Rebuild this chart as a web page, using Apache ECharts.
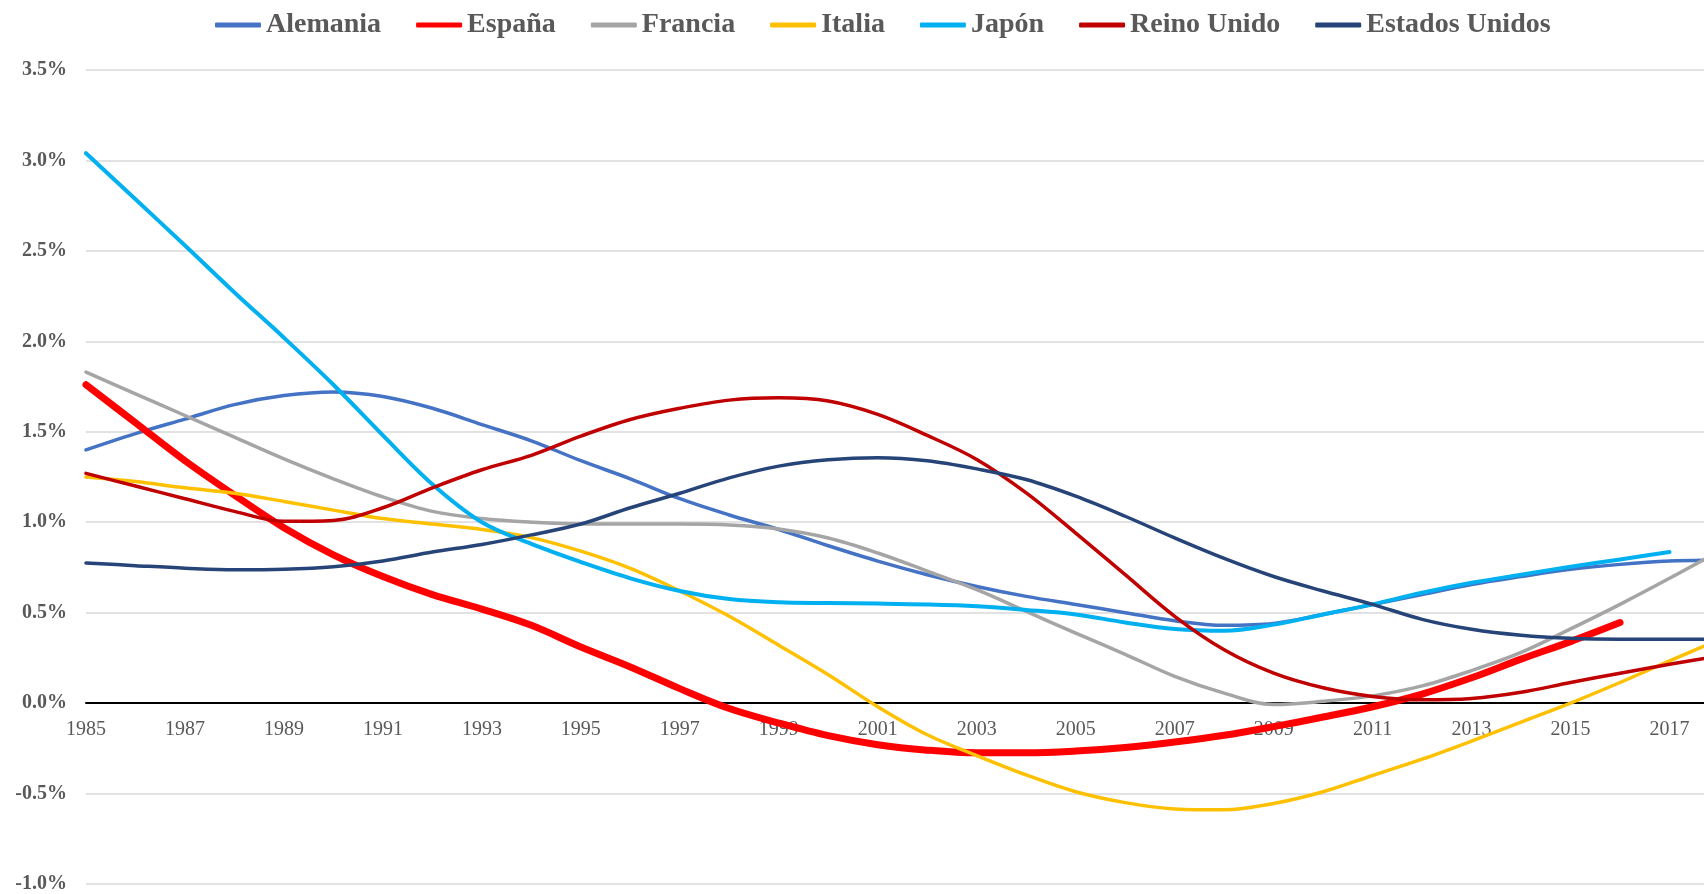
<!DOCTYPE html>
<html>
<head>
<meta charset="utf-8">
<title>Evolución por país 1985-2018</title>
<script src="https://cdn.jsdelivr.net/npm/echarts@6/dist/echarts.min.js"></script>
<style>
  html, body { margin: 0; padding: 0; background: #ffffff; }
  #chart { width: 1704px; height: 894px; }
</style>
</head>
<body>
<div id="chart"></div>
<script>
// Years on the horizontal axis
const years = [];
for (let y = 1985; y <= 2018; y++) years.push(String(y));

// Annual values, in percent (1985 .. 2018)
const alemania = [1.40, 1.49, 1.57, 1.65, 1.70, 1.72, 1.695, 1.63, 1.54, 1.45, 1.34, 1.24, 1.13, 1.04, 0.96, 0.87, 0.785, 0.71, 0.645, 0.59, 0.545, 0.50, 0.455, 0.43, 0.44, 0.49, 0.545, 0.60, 0.656, 0.70, 0.74, 0.767, 0.785, 0.79];
const espana = [1.76, 1.55, 1.34, 1.15, 0.97, 0.82, 0.70, 0.60, 0.52, 0.43, 0.31, 0.20, 0.08, -0.03, -0.11, -0.18, -0.23, -0.26, -0.275, -0.275, -0.265, -0.245, -0.215, -0.178, -0.13, -0.077, -0.02, 0.05, 0.14, 0.243, 0.34, 0.445, null, null];
const francia = [1.83, 1.71, 1.59, 1.47, 1.35, 1.24, 1.14, 1.06, 1.02, 1.0, 0.99, 0.99, 0.99, 0.985, 0.963, 0.913, 0.83, 0.73, 0.627, 0.507, 0.387, 0.27, 0.148, 0.055, -0.008, 0.01, 0.04, 0.095, 0.18, 0.28, 0.41, 0.546, 0.69, 0.84];
const italia = [1.25, 1.225, 1.19, 1.16, 1.115, 1.067, 1.02, 0.99, 0.96, 0.915, 0.84, 0.745, 0.62, 0.48, 0.32, 0.157, -0.02, -0.175, -0.29, -0.397, -0.49, -0.55, -0.585, -0.59, -0.555, -0.49, -0.40, -0.31, -0.21, -0.105, 0.0, 0.114, 0.233, 0.35];
const japon = [3.04, 2.785, 2.53, 2.27, 2.02, 1.76, 1.48, 1.21, 1.0, 0.88, 0.78, 0.69, 0.62, 0.575, 0.557, 0.553, 0.55, 0.545, 0.535, 0.515, 0.49, 0.446, 0.41, 0.40, 0.434, 0.49, 0.546, 0.61, 0.665, 0.71, 0.754, 0.794, 0.835, null];
const reinoUnido = [1.27, 1.20, 1.13, 1.06, 1.005, 1.01, 1.08, 1.19, 1.29, 1.37, 1.476, 1.568, 1.63, 1.675, 1.688, 1.67, 1.596, 1.48, 1.347, 1.162, 0.94, 0.71, 0.48, 0.295, 0.166, 0.085, 0.037, 0.018, 0.026, 0.06, 0.114, 0.165, 0.215, 0.26];
const estadosUnidos = [0.775, 0.76, 0.746, 0.737, 0.74, 0.754, 0.786, 0.835, 0.877, 0.93, 0.99, 1.08, 1.16, 1.245, 1.31, 1.345, 1.357, 1.34, 1.295, 1.236, 1.144, 1.033, 0.913, 0.80, 0.70, 0.62, 0.546, 0.463, 0.408, 0.375, 0.358, 0.353, 0.353, 0.353];

const seriesDefs = [
  { name: 'Alemania', data: alemania, color: '#4472C4', width: 3.5 },
  { name: 'España', data: espana, color: '#FF0000', width: 7 },
  { name: 'Francia', data: francia, color: '#A5A5A5', width: 3.5 },
  { name: 'Italia', data: italia, color: '#FFC000', width: 3.5 },
  { name: 'Japón', data: japon, color: '#00B0F0', width: 4 },
  { name: 'Reino Unido', data: reinoUnido, color: '#C00000', width: 3.5 },
  { name: 'Estados Unidos', data: estadosUnidos, color: '#264478', width: 3.5 }
];

const FONT = '"Liberation Serif", "Times New Roman", serif';

// Plot box; the year axis sits on the 0% line, so its offset is derived from the value range
const GRID_TOP = 70, GRID_BOTTOM = 10, CHART_H = 894;
const Y_MIN = -1, Y_MAX = 3.5;
const plotH = CHART_H - GRID_TOP - GRID_BOTTOM;
const zeroOffset = -plotH * (0 - Y_MIN) / (Y_MAX - Y_MIN);

const chart = echarts.init(document.getElementById('chart'), null, { renderer: 'canvas' });

chart.setOption({
  animation: false,
  backgroundColor: '#ffffff',
  legend: {
    left: 210,
    top: 6,
    icon: 'roundRect',
    itemWidth: 46,
    itemHeight: 5,
    itemGap: 35,
    textStyle: { fontFamily: FONT, fontSize: 28, fontWeight: 'bold', color: '#595959' },
    data: seriesDefs.map(s => s.name)
  },
  grid: { left: 86, top: GRID_TOP, width: 1633, bottom: GRID_BOTTOM, containLabel: false, outerBoundsMode: 'none' },
  xAxis: {
    type: 'category',
    data: years,
    boundaryGap: false,
    offset: zeroOffset,
    axisLine: { onZero: false, lineStyle: { color: '#000000', width: 2 } },
    axisTick: { show: false },
    axisLabel: {
      interval: 1,
      margin: 17,
      fontFamily: FONT,
      fontSize: 20,
      color: '#595959'
    },
    splitLine: { show: false }
  },
  yAxis: {
    type: 'value',
    min: Y_MIN,
    max: Y_MAX,
    interval: 0.5,
    axisLine: { show: false },
    axisTick: { show: false },
    axisLabel: {
      margin: 19,
      fontFamily: FONT,
      fontSize: 20,
      fontWeight: 'bold',
      color: '#595959',
      formatter: v => v.toFixed(1) + '%'
    },
    splitLine: { lineStyle: { color: '#D9D9D9', width: 1.5 } }
  },
  series: seriesDefs.map(s => ({
    name: s.name,
    type: 'line',
    data: s.data,
    smooth: 0.35,
    showSymbol: false,
    symbol: 'none',
    connectNulls: false,
    color: s.color,
    lineStyle: { color: s.color, width: s.width, cap: 'round', join: 'round' }
  }))
});
</script>
</body>
</html>
